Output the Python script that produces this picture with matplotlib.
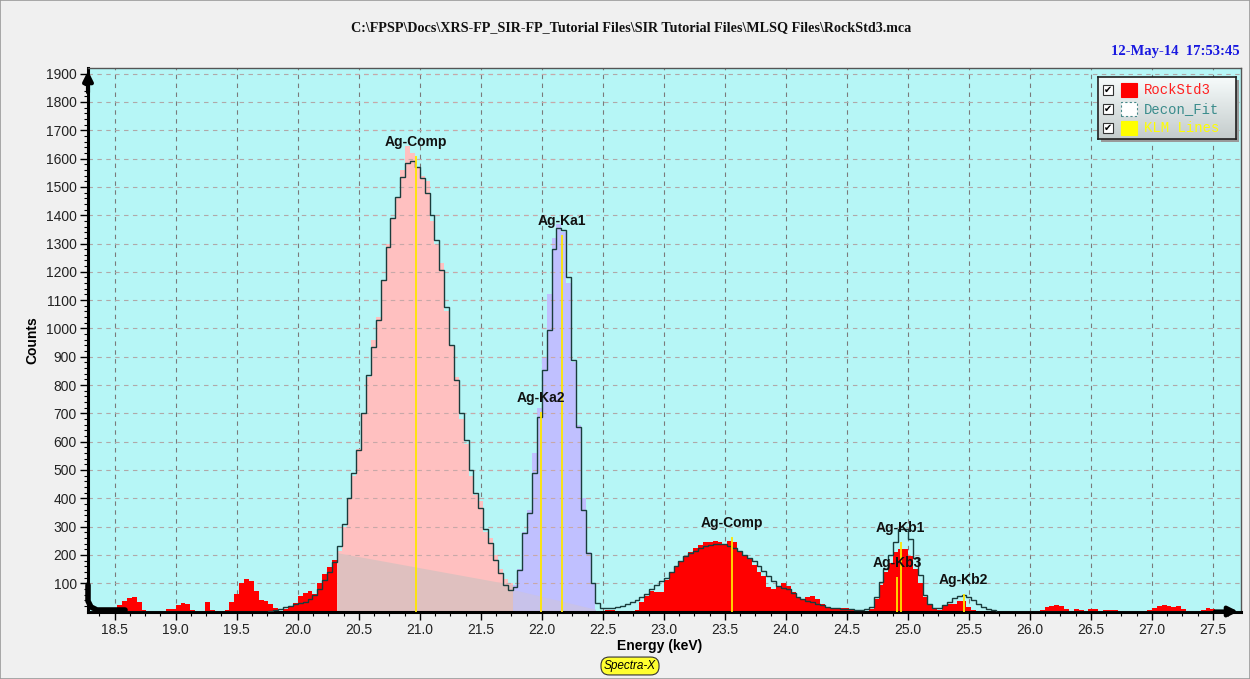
import numpy as np
import matplotlib
matplotlib.use('Agg')
import matplotlib.pyplot as plt
from matplotlib.patches import Rectangle
from matplotlib.lines import Line2D
from matplotlib.colors import LinearSegmentedColormap

# ---------------- data ----------------
# MCA energy calibration (keV) and channel contents
e_offset = 18.28
e_gain = 0.04

counts = [
    0, 0, 0, 0, 0, 0, 22, 38, 48, 50,            # 18.30-18.66
    32, 6, 0, 0, 0, 0, 8, 10, 22, 30,            # 18.70-19.06
    26, 4, 0, 0, 35, 6, 0, 0, 4, 35,             # 19.10-19.46
    62, 100, 116, 106, 72, 40, 36, 26, 12, 3,    # 19.50-19.86
    10, 17, 30, 55, 65, 72, 62, 100, 132, 158,   # 19.90-20.26
    182,                                         # 20.30
    215, 300, 400, 480, 575, 700, 830, 960, 1040, 1170,   # 20.34-20.70
    1300, 1390, 1460, 1560, 1645, 1620, 1570, 1540, 1520, 1380,  # 20.74-21.10
    1300, 1230, 1060, 940, 830, 680, 590, 480, 410, 390,  # 21.14-21.50
    280, 260, 200, 150, 115, 100,                 # 21.54-21.74
    95, 150, 280, 360, 560, 720, 900, 1120, 1320, 1370,   # 21.78-22.14
    1340, 1160, 880, 660, 400, 210, 100,          # 22.18-22.42
    0, 0, 5, 5, 3, 0, 0, 2, 5, 35,                # 22.46-22.82
    55, 72, 68, 68, 110, 135, 160, 180, 195, 210,  # 22.86-23.22
    225, 235, 245, 245, 250, 245, 240, 250, 245, 215,  # 23.26-23.62
    195, 185, 165, 140, 125, 85, 80, 88, 100, 90,  # 23.66-24.02
    70, 52, 45, 50, 55, 45, 25, 15, 10, 8,         # 24.06-24.42
    12, 12, 5, 2,                                 # 24.46-24.58
    0, 3, 10, 45, 95, 140, 170, 210, 222, 222,     # 24.62-24.98
    195, 150, 100, 50, 22, 8, 5, 20, 28, 25,       # 25.02-25.38
    38, 36, 15, 6, 2, 0, 0, 3, 0, 0,               # 25.42-25.78
    2, 0, 0, 0, 3, 0, 0, 5, 15, 20,                # 25.82-26.18
    22, 20, 10, 3, 8, 6, 2, 10, 8, 2,              # 26.22-26.58
    6, 5, 4, 0, 2, 0, 0, 0, 3, 5,                  # 26.62-26.98
    12, 18, 22, 20, 16, 18, 10, 3, 0, 2,           # 27.02-27.38
    5, 12, 10, 3, 0, 2, 0, 0,                      # 27.42-27.70
]

decon_fit = [
    0, 0, 0, 0, 0, 0, 0, 0, 0, 0,
    0, 0, 0, 0, 0, 0, 0, 0, 0, 0,
    0, 0, 0, 0, 0, 0, 0, 0, 0, 0,
    0, 0, 0, 0, 0, 0, 0, 3, 6, 10,
    15, 20, 25, 30, 35, 43, 58, 78, 111, 141,
    176,
    230, 310, 400, 488, 570, 700, 835, 936, 1030, 1170,
    1289, 1389, 1466, 1536, 1583, 1590, 1572, 1530, 1480, 1400,
    1313, 1207, 1077, 940, 818, 700, 606, 500, 420, 365,
    290, 241, 182, 135, 95, 75,
    87, 146, 276, 347, 488, 688, 853, 995, 1280, 1354,
    1348, 1183, 889, 653, 358, 205, 99,
    30, 14, 12, 12, 15, 20, 28, 35, 42, 50,
    62, 78, 95, 108, 118, 140, 162, 180, 195, 205,
    215, 225, 230, 235, 238, 238, 237, 232, 225, 212,
    200, 188, 178, 160, 142, 124, 106, 90, 84, 78,
    64, 52, 45, 38, 32, 26, 22, 17, 14, 12,
    10, 8, 8, 6,
    5, 8, 15, 50, 105, 150, 200, 245, 290, 293,
    255, 190, 130, 60, 25, 12, 12, 22, 35, 46,
    55, 57, 52, 42, 28, 15, 8, 5, 0, 0,
    0, 0, 0, 0, 0, 0, 0, 0, 0, 0,
    0, 0, 0, 0, 0, 0, 0, 0, 0, 0,
    0, 0, 0, 0, 0, 0, 0, 0, 0, 0,
    0, 0, 0, 0, 0, 0, 0, 0, 0, 0,
    0, 0, 0, 0, 0, 0, 0, 0,
]

# ROIs (channel ranges) and their linear backgrounds (counts at ROI ends)
roi_comp = (51, 87)
roi_ka = (87, 104)
bg_comp = [208, 95]
bg_ka = [78, 8]

# KLM marker lines
klm_names = ['Ag-Comp', 'Ag-Ka2', 'Ag-Ka1', 'Ag-Comp', 'Ag-Kb3', 'Ag-Kb1', 'Ag-Kb2']
klm_energy = [20.97, 21.99, 22.163, 23.56, 24.911, 24.942, 25.456]
klm_height = [1610, 706, 1330, 262, 123, 247, 62]

x_ticks = [18.5 + 0.5 * i for i in range(19)]
y_ticks = list(range(100, 2000, 100))

title = r'C:\FPSP\Docs\XRS-FP_SIR-FP_Tutorial Files\SIR Tutorial Files\MLSQ Files\RockStd3.mca'
stamp = '12-May-14  17:53:45'
legend_names = ['RockStd3', 'Decon_Fit', 'KLM Lines']

# ---------------- figure ----------------
W, H = 1250, 679
def fx(x):
    return x / W
def fy(y):
    return 1 - y / H

fig = plt.figure(figsize=(W / 100, H / 100), dpi=100, facecolor='#F0F0F0')
fig.patches.append(Rectangle((0, 0), 1, 1, transform=fig.transFigure, fill=False,
                             ec='#9a9a9a', lw=1.2))

ax_l, ax_r, ax_t, ax_b = 88, 1241, 68, 611.5
ax = fig.add_axes([fx(ax_l), fy(ax_b), (ax_r - ax_l) / W, (ax_b - ax_t) / H])
ax.set_facecolor('#B6F6F6')
ax.set_xlim(18.281, 27.73)
ax.set_ylim(0, 1920)

counts_a = np.array(counts, dtype=float)
fit_a = np.array(decon_fit, dtype=float)
edges = e_offset + e_gain * np.arange(len(counts_a) + 1)

# grid
for xv in x_ticks:
    ax.axvline(xv, color='#7a7a7a', lw=0.8, ls=(0, (4, 4)), zorder=1)
for yv in y_ticks:
    ax.axhline(yv, color='#b0a8a8', lw=0.8, ls=(0, (4, 4)), zorder=1)

# spectrum
ax.stairs(counts_a, edges, fill=True, color='#FF0000', zorder=2)
c0, c1 = roi_comp
ax.stairs(counts_a[c0:c1], edges[c0:c1 + 1], fill=True, color='#FFC0C0', zorder=2.1)
k0, k1 = roi_ka
ax.stairs(counts_a[k0:k1], edges[k0:k1 + 1], fill=True, color='#C0C0FF', zorder=2.1)
# horizontal grid visible over ROI fills
for yv in y_ticks:
    ax.hlines(yv, edges[c0], edges[k1], color='#c8a8a8', lw=0.8, ls=(0, (4, 4)), zorder=2.15)
# ROI backgrounds
ax.fill_between([edges[c0], edges[c1]], bg_comp, 0, color='#DFC0BF', lw=0, zorder=2.2)
ax.fill_between([edges[k0], edges[k1]], bg_ka, 0, color='#C8C2EA', lw=0, zorder=2.2)

# deconvolution fit
ax.stairs(fit_a, edges, baseline=None, color='#1A3C3C', lw=1.0, zorder=4)

# KLM lines and labels
ax.vlines(klm_energy, 0, klm_height, color='#FFE600', lw=1.3, zorder=5)
for name, e, h in zip(klm_names, klm_energy, klm_height):
    ax.annotate(name, (e, h), xytext=(0, 10), textcoords='offset points',
                ha='center', va='center', fontsize=10, fontweight='bold',
                family='Liberation Sans', color='#111111', zorder=6)

# axes styling
ax.set_xticks(x_ticks)
ax.set_xticklabels(['%.1f' % v for v in x_ticks])
ax.set_xticks(np.arange(18.375, 27.73, 0.125), minor=True)
ax.set_yticks(y_ticks)
ax.set_yticks(np.arange(20, 1920, 20), minor=True)
ax.tick_params(axis='both', which='major', direction='out', length=6, width=1,
               labelsize=10, labelcolor='#222222')
ax.tick_params(axis='both', which='minor', direction='out', length=3, width=0.8)
ax.tick_params(axis='x', which='major', pad=2)
ax.tick_params(axis='y', which='major', pad=2)
for lab in ax.get_xticklabels() + ax.get_yticklabels():
    lab.set_family('Liberation Sans')
for s in ['left', 'bottom']:
    ax.spines[s].set_linewidth(2.2)
    ax.spines[s].set_color('black')
for s in ['top', 'right']:
    ax.spines[s].set_linewidth(1.0)
    ax.spines[s].set_color('#555555')

# axis arrows
ax.annotate('', xy=(0, 1.0), xytext=(0, 0.95), xycoords='axes fraction',
            arrowprops=dict(arrowstyle='-|>', color='black', lw=3, mutation_scale=14),
            annotation_clip=False, zorder=10)
ax.annotate('', xy=(1.0, 0), xytext=(0.975, 0), xycoords='axes fraction',
            arrowprops=dict(arrowstyle='-|>', color='black', lw=3, mutation_scale=14),
            annotation_clip=False, zorder=10)
fig.lines.append(Line2D([fx(88), fx(88), fx(91), fx(97), fx(125)],
                        [fy(585), fy(601), fy(607), fy(610), fy(610)],
                        transform=fig.transFigure, color='black', lw=4,
                        solid_capstyle='round', solid_joinstyle='round'))

# texts
fig.text(fx(631), fy(28), title, ha='center', va='center', family='Liberation Serif',
         fontweight='bold', fontsize=10.2, color='#111111')
fig.text(fx(1240), fy(52), stamp, ha='right', va='center', family='Liberation Serif',
         fontweight='bold', fontsize=10.5, color='#1818E0')
fig.text(fx(32), fy(340), 'Counts', rotation=90, ha='center', va='center',
         family='Liberation Sans', fontweight='bold', fontsize=10)
fig.text(fx(660), fy(646), 'Energy (keV)', ha='center', va='center',
         family='Liberation Sans', fontweight='bold', fontsize=10)
fig.text(fx(630), fy(666), 'Spectra-X', ha='center', va='center',
         family='Liberation Sans', style='italic', fontsize=8.5,
         bbox=dict(boxstyle='round,pad=0.25,rounding_size=0.7', fc='#FFFF30',
                   ec='#333333', lw=0.8))

# legend (drawn manually)
lx0, ly0, lx1, ly1 = 1098, 77, 1236, 139
fig.patches.append(Rectangle((fx(lx0 + 3), fy(ly1 + 3)), (lx1 - lx0) / W, (ly1 - ly0) / H,
                             transform=fig.transFigure, fc='#9a9a9a', ec='none', zorder=20))
lax = fig.add_axes([fx(lx0), fy(ly1), (lx1 - lx0) / W, (ly1 - ly0) / H], zorder=21)
grad = np.linspace(0, 1, 64)[:, None]
cm = LinearSegmentedColormap.from_list('lg', ['#F6FBFB', '#C4CCCC'])
lax.imshow(grad, aspect='auto', cmap=cm, extent=[0, 1, 0, 1], origin='upper')
lax.set_xticks([]); lax.set_yticks([])
for s in lax.spines.values():
    s.set_color('#202020'); s.set_linewidth(1.2)

row_y = [90, 109, 128]
sq_colors = ['#FF0000', '#FFFFFF', '#FFFF00']
txt_colors = ['#FF2020', '#3A8C8C', '#FFFF00']
for yy, nm, sc, tc in zip(row_y, legend_names, sq_colors, txt_colors):
    fig.patches.append(Rectangle((fx(1103), fy(yy + 5)), 10 / W, 10 / H,
                                 transform=fig.transFigure, fc='white', ec='#333333',
                                 lw=0.8, zorder=22))
    fig.text(fx(1108), fy(yy), '\u2714', ha='center', va='center', fontsize=7,
             family='DejaVu Sans', color='black', zorder=23)
    fig.patches.append(Rectangle((fx(1121), fy(yy + 7)), 16 / W, 14 / H,
                                 transform=fig.transFigure, fc=sc,
                                 ec='#4a8a8a' if sc == '#FFFFFF' else sc,
                                 lw=0.8, ls=(0, (2, 2)) if sc == '#FFFFFF' else '-',
                                 zorder=22))
    fig.text(fx(1144), fy(yy), nm, ha='left', va='center', family='Liberation Mono',
             fontsize=10, color=tc, zorder=23)

fig.savefig('out.png', dpi=100, facecolor=fig.get_facecolor())
